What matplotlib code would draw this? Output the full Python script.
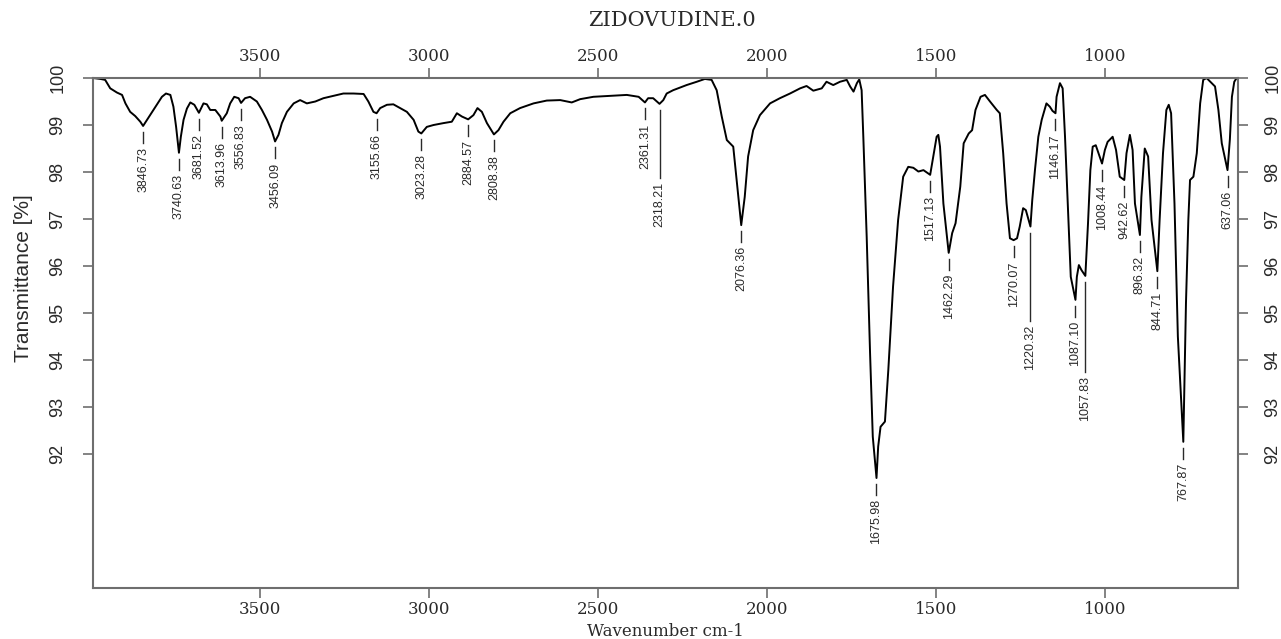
#!/usr/bin/env python3
# -*- coding: utf-8 -*-

import numpy as np
from matplotlib import pyplot as plt

# IR spectrum of zidovudine, wavenumber (cm-1) vs transmittance (%)
wavenumber = [3995, 3973, 3959, 3944, 3924, 3909, 3899, 3885, 3870, 3855,
	3846.73, 3835, 3820, 3806, 3791, 3779, 3766, 3757, 3749, 3740.63,
	3735, 3727, 3717, 3707, 3695, 3681.52, 3668, 3658, 3648, 3633,
	3618, 3613.96, 3599, 3589, 3577, 3564, 3556.83, 3545, 3530, 3510,
	3495, 3480, 3465, 3456.09, 3446, 3436, 3421, 3401, 3382, 3362,
	3337, 3313, 3283, 3254, 3224, 3194, 3180, 3165, 3155.66, 3145,
	3125, 3106, 3086, 3066, 3046, 3032, 3023.28, 3007, 2987, 2958,
	2933, 2918, 2903, 2884.57, 2869, 2857, 2844, 2829, 2808.38, 2795,
	2780, 2760, 2731, 2691, 2652, 2612, 2578, 2553, 2514, 2464,
	2415, 2380, 2361.31, 2352, 2337, 2318.21, 2307, 2297, 2278, 2238,
	2208, 2184, 2164, 2149, 2134, 2119, 2100, 2090, 2076.36, 2066,
	2056, 2041, 2021, 1991, 1962, 1932, 1902, 1883, 1863, 1838,
	1824, 1804, 1784, 1764, 1754, 1744, 1734, 1727, 1720, 1715,
	1705, 1695, 1687, 1675.98, 1671, 1664, 1651, 1641, 1627, 1612,
	1597, 1582, 1567, 1552, 1537, 1517.13, 1508, 1498, 1493, 1488,
	1478, 1462.29, 1452, 1442, 1428, 1418, 1403, 1393, 1383, 1368,
	1355, 1340, 1320, 1311, 1301, 1291, 1281, 1270.07, 1260, 1252,
	1242, 1234, 1220.32, 1215, 1207, 1197, 1187, 1173, 1163, 1155,
	1146.17, 1143, 1133, 1125, 1118, 1108, 1101, 1087.10, 1083, 1077,
	1069, 1057.83, 1050, 1043, 1036, 1027, 1008.44, 1000, 992, 977,
	967, 956, 942.62, 936, 926, 918, 911, 896.32, 892, 882,
	872, 862, 844.71, 838, 828, 818, 811, 804, 794, 784,
	767.87, 760, 753, 748, 738, 728, 718, 709, 699, 684,
	674, 664, 654, 637.06, 630, 624, 617, 610]

transmittance = [100.0, 99.98, 99.96, 99.78, 99.69, 99.64, 99.46, 99.28, 99.19, 99.07,
	98.98, 99.11, 99.28, 99.43, 99.60, 99.67, 99.64, 99.39, 98.96, 98.41,
	98.75, 99.11, 99.35, 99.48, 99.43, 99.26, 99.46, 99.44, 99.32, 99.32,
	99.18, 99.09, 99.25, 99.46, 99.60, 99.57, 99.47, 99.57, 99.60, 99.50,
	99.32, 99.11, 98.86, 98.65, 98.79, 99.04, 99.28, 99.46, 99.53, 99.46,
	99.50, 99.57, 99.62, 99.67, 99.67, 99.66, 99.50, 99.28, 99.25, 99.36,
	99.43, 99.44, 99.36, 99.28, 99.11, 98.86, 98.82, 98.96, 99.00, 99.04,
	99.07, 99.25, 99.18, 99.12, 99.21, 99.36, 99.28, 99.04, 98.80, 98.89,
	99.07, 99.25, 99.36, 99.46, 99.52, 99.53, 99.48, 99.55, 99.60, 99.62,
	99.64, 99.60, 99.48, 99.57, 99.57, 99.45, 99.53, 99.67, 99.74, 99.85,
	99.92, 99.98, 99.96, 99.74, 99.18, 98.68, 98.54, 97.83, 96.87, 97.47,
	98.33, 98.89, 99.21, 99.46, 99.57, 99.67, 99.78, 99.83, 99.73, 99.78,
	99.92, 99.85, 99.92, 99.96, 99.82, 99.71, 99.89, 99.97, 99.74, 98.75,
	96.62, 94.14, 92.37, 91.49, 92.16, 92.58, 92.69, 93.79, 95.56, 96.98,
	97.90, 98.11, 98.09, 98.01, 98.04, 97.94, 98.33, 98.75, 98.79, 98.54,
	97.33, 96.28, 96.70, 96.91, 97.69, 98.61, 98.82, 98.89, 99.32, 99.60,
	99.64, 99.50, 99.32, 99.25, 98.40, 97.33, 96.59, 96.55, 96.59, 96.84,
	97.23, 97.19, 96.84, 97.40, 98.04, 98.75, 99.11, 99.46, 99.39, 99.30,
	99.25, 99.60, 99.89, 99.78, 98.75, 96.98, 95.77, 95.28, 95.77, 96.02,
	95.91, 95.79, 96.90, 98.04, 98.54, 98.57, 98.18, 98.47, 98.64, 98.75,
	98.47, 97.90, 97.83, 98.40, 98.79, 98.47, 97.33, 96.66, 97.47, 98.50,
	98.33, 96.98, 95.89, 96.98, 98.40, 99.32, 99.43, 99.25, 97.33, 94.50,
	92.26, 95.21, 96.98, 97.83, 97.90, 98.40, 99.46, 99.96, 100.0, 99.89,
	99.82, 99.32, 98.61, 98.04, 98.70, 99.60, 99.92, 100.0]

# picked peaks, labelled under the curve
peaks = [3846.73, 3740.63, 3681.52, 3613.96, 3556.83, 3456.09, 3155.66,
	3023.28, 2884.57, 2808.38, 2361.31, 2318.21, 2076.36, 1675.98, 1517.13,
	1462.29, 1270.07, 1220.32, 1146.17, 1087.10, 1057.83, 1008.44, 942.62,
	896.32, 844.71, 767.87, 637.06]

# longer leader lines (px) where labels would collide
long_leaders = {2318.21: 68, 1220.32: 88, 1057.83: 90}

xticks = [3500, 3000, 2500, 2000, 1500, 1000]
yticks = [92, 93, 94, 95, 96, 97, 98, 99, 100]

XMIN, XMAX = 3995, 606
YMIN, YMAX = 89.15, 100.0

sans = ['Liberation Sans', 'DejaVu Sans']
serif = ['DejaVu Serif']
axis_grey = '#6e6e6e'
text_col = '#2a2a2a'

fig = plt.figure(figsize=(12.81, 6.39), dpi=100)
ax = fig.add_axes([93/1281, 1 - 588/639, (1238 - 93)/1281, (588 - 78)/639])

ax.plot(wavenumber, transmittance, color='black', linewidth=1.4)
ax.set_xlim(XMIN, XMAX)
ax.set_ylim(YMIN, YMAX)

# pixels per transmittance unit, for the peak label offsets
ppu = ax.get_position().height * fig.get_figheight() * fig.dpi / (YMAX - YMIN)

for p in peaks:
	t = transmittance[wavenumber.index(p)]
	gap = 6
	dash = long_leaders.get(p, 11)
	ax.plot([p, p], [t - gap/ppu, t - (gap + dash)/ppu], color=text_col,
			linewidth=1.0)
	ax.text(p, t - (gap + dash + 4)/ppu, "%.2f" % p, rotation=90,
			ha='center', va='top', fontsize=9, family=sans, color=text_col)

for s in ax.spines.values():
	s.set_color(axis_grey)
	s.set_linewidth(1.5)

ax.set_xticks(xticks)
ax.set_yticks(yticks)
ax.tick_params(axis='x', which='both', top=True, bottom=True, labeltop=True,
		labelbottom=True, direction='out', length=7, width=1.2,
		color=axis_grey, pad=2.5, labelsize=12, labelcolor=text_col)
ax.tick_params(axis='y', which='both', left=True, right=True, labelleft=True,
		labelright=True, direction='out', length=7, width=1.2,
		color=axis_grey, pad=12, labelsize=13, labelcolor=text_col)
for lab in ax.get_xticklabels():
	lab.set_family(serif)
for lab in ax.get_yticklabels():
	lab.set_family(sans)
	lab.set_rotation(90)
	lab.set_va('center')

fig.text(672/1281, 1 - 20/639, "ZIDOVUDINE.0", ha='center', va='center',
		fontsize=15, family=serif, color=text_col)
fig.text(665/1281, 1 - 636/639, "Wavenumber cm-1", ha='center', va='baseline',
		fontsize=12, family=serif, color=text_col)
fig.text(24/1281, 1 - 278/639, "Transmittance [%]", ha='center', va='center',
		rotation=90, fontsize=15, family=sans, color=text_col)

fig.savefig("out.png", dpi=100)
